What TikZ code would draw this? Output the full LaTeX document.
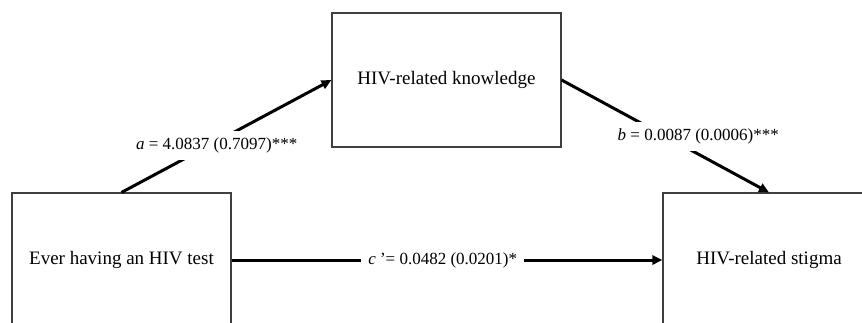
\documentclass[tikz,border=0pt]{standalone}
\usepackage{fontspec}
\setmainfont{Liberation Serif}
\usetikzlibrary{arrows.meta}

\begin{document}
\begin{tikzpicture}[x=1pt,y=-1pt,
	varbox/.style={draw=black!75,line width=1.1pt,rectangle,minimum height=134pt,inner sep=0pt,font=\fontsize{19}{23}\selectfont},
	effect/.style={line width=3pt,-{Triangle[length=10pt,width=9pt]}},
	coef/.style={fill=white,inner xsep=7pt,inner ysep=7pt,font=\fontsize{17}{20}\selectfont}]
	\useasboundingbox (0,0) rectangle (862,322);
	% Variables
	\node[varbox,minimum width=219pt] (test) at (121.5,260) {Ever having an HIV test};
	\node[varbox,minimum width=229pt] (know) at (446.5,80) {HIV-related knowledge};
	\node[varbox,minimum width=212pt] (stigma) at (769,260) {HIV-related stigma};
	% Paths
	\draw[effect] (test.north) -- node[coef,pos=.42,xshift=7pt] {\textit{a} = 4.0837 (0.7097)***} (know.west);
	\draw[effect] (know.east) -- node[coef,pos=.5,xshift=33pt] {\textit{b} = 0.0087 (0.0006)***} (stigma.north);
	\draw[effect] (test.east) -- node[coef,pos=.49] {\textit{c} '= 0.0482 (0.0201)*} (stigma.west);
\end{tikzpicture}
\end{document}
